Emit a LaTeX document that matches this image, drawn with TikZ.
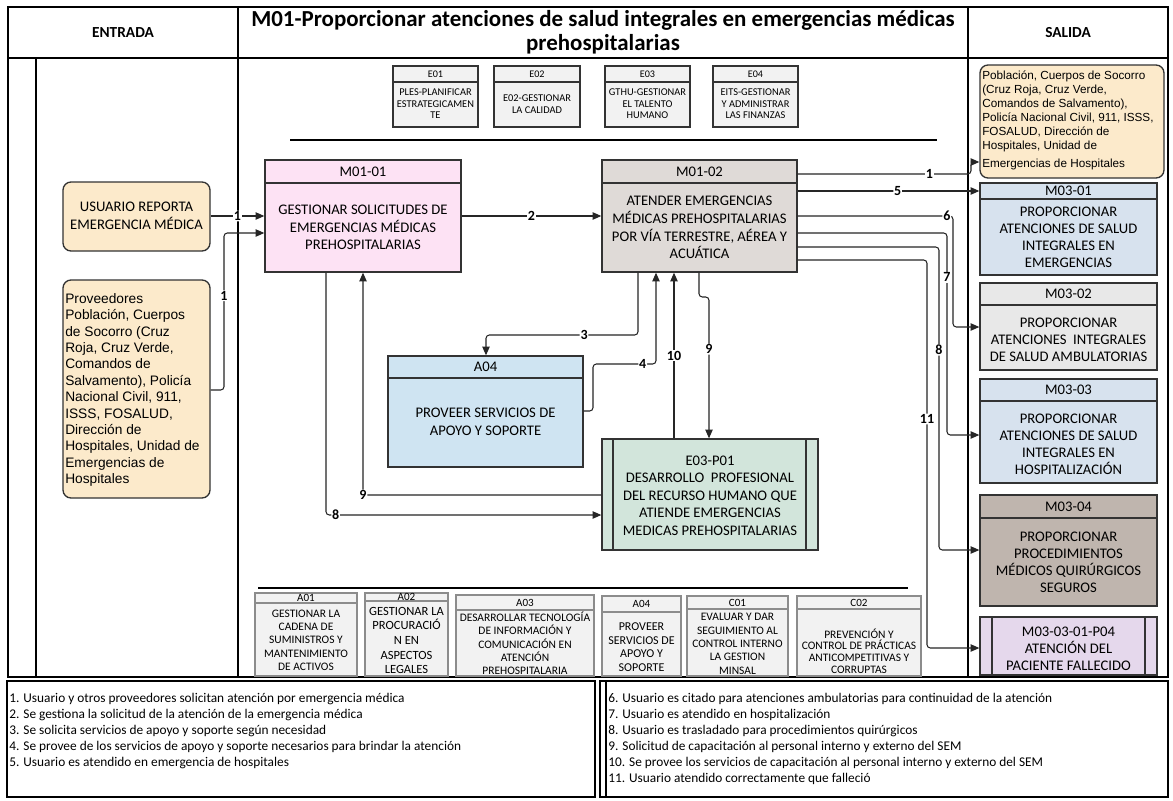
\documentclass[tikz,border=0pt]{standalone}
\usepackage{fontspec}
\setmainfont{Carlito}
\newfontfamily\arialf{Liberation Sans}
\usetikzlibrary{arrows.meta,fit}
\definecolor{peach}{HTML}{FCEACB}
\definecolor{pinkb}{HTML}{FDE2F4}
\definecolor{taupel}{HTML}{DFDAD7}
\definecolor{blueA}{HTML}{CFE4F2}
\definecolor{mint}{HTML}{D2E5DB}
\definecolor{steel}{HTML}{D7E2EE}
\definecolor{grayM}{HTML}{E8E8E8}
\definecolor{taupe}{HTML}{BFB5AE}
\definecolor{lav}{HTML}{E5D8EC}
\definecolor{boxg}{HTML}{F2F2F2}
\definecolor{boxline}{HTML}{333333}
\definecolor{grayline}{HTML}{8C8C8C}
\definecolor{connc}{HTML}{262626}
\tikzset{
 frame/.style={draw=black, line width=1.1pt},
 mbox/.style={draw=boxline, line width=1pt, inner sep=0pt},
 hline/.style={draw=boxline, line width=1pt},
 htext/.style={font=\fontsize{11}{13}\selectfont, inner sep=0pt},
 btext/.style={font=\fontsize{11}{13.2}\selectfont, align=center, inner sep=0pt},
 rbox/.style={draw=boxline, fill=peach, line width=1pt, rounded corners=6pt, inner sep=0pt},
 conn/.style={draw=connc, line width=0.8pt, rounded corners=2.5pt},
 arr/.style={conn, -{Triangle[length=6.5pt,width=5.5pt]}},
 lab/.style={font=\fontsize{10.5}{10.5}\selectfont\bfseries, fill=white, inner sep=0.6pt},
 legtext/.style={font=\fontsize{10}{11}\selectfont, anchor=west, inner sep=0pt},
 sepline/.style={draw=black, line width=0.8pt},
}
\newcommand{\mkbox}[9]{%
  \node[mbox, fit={(#2,#3) (#4,#5)}] (#1) {};
  \draw[hline] (#2,#6) -- (#4,#6);
  \node[htext] (#1-h) at ({(#2+#4)/2},{(#3+#6)/2}) {#8};
  \node[btext] (#1-t) at ({(#2+#4)/2},#7) {#9};
}
\begin{document}
\begin{tikzpicture}[x=0.75pt,y=-0.75pt]
\useasboundingbox (0,0) rectangle (1173,800);
\fill[white] (0,0) rectangle (1173,800);

% ---------- frame ----------
\draw[frame] (8,7) rectangle (1168,677);
\draw[frame] (8,58) -- (1168,58);
\draw[frame] (238,7) -- (238,677);
\draw[frame] (968,7) -- (968,677);
\draw[frame] (36,58) -- (36,677);
\node[font=\fontsize{11.5}{13}\selectfont\bfseries] (entrada) at (123,32.5) {ENTRADA};
\node[font=\fontsize{11.5}{13}\selectfont\bfseries] (salida) at (1068,32.5) {SALIDA};
\node[font=\fontsize{17.2}{18}\selectfont\bfseries, align=center, inner sep=0pt] (title) at (603,32.5)
  {M01-Proporcionar atenciones de salud integrales en emergencias médicas\\prehospitalarias};

% ---------- top strategic boxes ----------
\begin{scope}[mbox/.append style={fill=boxg, line width=0.8pt}, hline/.append style={line width=0.8pt},
  htext/.style={font=\fontsize{7.6}{8}\selectfont, inner sep=0pt},
  btext/.style={font=\fontsize{7.8}{8.7}\selectfont, align=center, inner sep=0pt}]
\mkbox{e01}{393}{66}{478}{127}{82}{104}{E01}{PLES-PLANIFICAR\\ESTRATEGICAMEN\\TE}
\mkbox{e02}{494}{66}{580}{127}{82}{104}{E02}{E02-GESTIONAR\\LA CALIDAD}
\mkbox{e03}{605}{66}{690}{127}{82}{104}{E03}{GTHU-GESTIONAR\\EL TALENTO\\HUMANO}
\mkbox{e04}{713}{66}{798}{127}{82}{104}{E04}{EITS-GESTIONAR\\Y ADMINISTRAR\\LAS FINANZAS}
\end{scope}
\draw[sepline] (290,140) -- (937,140);

% ---------- inputs ----------
\node[rbox, fit={(63,182) (210,251)}] (usr) {};
\node[btext] (usr-t) at (136.5,215.5) {USUARIO REPORTA\\EMERGENCIA MÉDICA};
\node[rbox, fit={(63,280) (210,498)}] (prov) {};
\node[font=\arialf\fontsize{10.3}{12.3}\selectfont, align=left, anchor=west, inner sep=0pt] (prov-t) at (65,390)
 {Proveedores\\Población, Cuerpos\\de Socorro (Cruz\\Roja, Cruz Verde,\\Comandos de\\Salvamento), Policía\\Nacional Civil, 911,\\ISSS, FOSALUD,\\Dirección de\\Hospitales, Unidad de\\Emergencias de\\Hospitales};

% ---------- main process boxes ----------
\begin{scope}[mbox/.append style={fill=pinkb}]
\mkbox{m0101}{265}{160}{461}{272}{183}{227.5}{M01-01}{GESTIONAR SOLICITUDES DE\\EMERGENCIAS MÉDICAS\\PREHOSPITALARIAS}
\end{scope}
\begin{scope}[mbox/.append style={fill=taupel}]
\mkbox{m0102}{602}{160}{797}{272}{183}{227.5}{M01-02}{ATENDER EMERGENCIAS\\MÉDICAS PREHOSPITALARIAS\\POR VÍA TERRESTRE, AÉREA Y\\ACUÁTICA}
\end{scope}
\begin{scope}[mbox/.append style={fill=blueA}]
\mkbox{a04}{388}{356}{583}{467}{378}{422}{A04}{PROVEER SERVICIOS DE\\APOYO Y SOPORTE}
\end{scope}
\node[mbox, fill=mint, fit={(602,439) (818,550)}] (e03p) {};
\draw[hline] (613,439) -- (613,550);
\draw[hline] (806,439) -- (806,550);
\node[btext] (e03p-t) at (710,495.5) {E03-P01\\DESARROLLO\ \ PROFESIONAL\\DEL RECURSO HUMANO QUE\\ATIENDE EMERGENCIAS\\MEDICAS PREHOSPITALARIAS};

% ---------- outputs ----------
\node[rbox, fit={(980,65) (1164,178)}] (outb) {};
\node[font=\arialf\fontsize{8.8}{10.5}\selectfont, align=left, anchor=west, inner sep=0pt] (outb-t) at (982,120)
 {Población, Cuerpos de Socorro\\(Cruz Roja, Cruz Verde,\\Comandos de Salvamento),\\Policía Nacional Civil, 911, ISSS,\\FOSALUD, Dirección de\\Hospitales, Unidad de\\[3pt]Emergencias de Hospitales};
\begin{scope}[btext/.style={font=\fontsize{11}{12.8}\selectfont, align=center, inner sep=0pt}]
\begin{scope}[mbox/.append style={fill=steel}]
\mkbox{m0301}{980}{183}{1157}{275}{199}{237.5}{M03-01}{PROPORCIONAR\\ATENCIONES DE SALUD\\INTEGRALES EN\\EMERGENCIAS}
\end{scope}
\begin{scope}[mbox/.append style={fill=grayM}]
\mkbox{m0302}{980}{283}{1157}{370}{305}{340}{M03-02}{PROPORCIONAR\\ATENCIONES\ \ INTEGRALES\\DE SALUD AMBULATORIAS}
\end{scope}
\begin{scope}[mbox/.append style={fill=steel}]
\mkbox{m0303}{980}{379}{1157}{483}{401}{444.5}{M03-03}{PROPORCIONAR\\ATENCIONES DE SALUD\\INTEGRALES EN\\HOSPITALIZACIÓN}
\end{scope}
\begin{scope}[mbox/.append style={fill=taupe}]
\mkbox{m0304}{980}{495}{1157}{606}{518}{562}{M03-04}{PROPORCIONAR\\PROCEDIMIENTOS\\MÉDICOS QUIRÚRGICOS\\SEGUROS}
\end{scope}
\node[mbox, fill=lav, fit={(980,617) (1157,675)}] (p04) {};
\draw[hline] (992,617) -- (992,675);
\draw[hline] (1145,617) -- (1145,675);
\node[btext] (p04-t) at (1068.5,649) {M03-03-01-P04\\ATENCIÓN DEL\\PACIENTE FALLECIDO};
\end{scope}

% ---------- support boxes ----------
\draw[sepline] (258,588) -- (908,588);
\begin{scope}[mbox/.append style={fill=boxg, draw=grayline, line width=0.9pt}, hline/.append style={draw=grayline, line width=0.9pt},
  htext/.style={font=\fontsize{8.3}{9}\selectfont, inner sep=0pt},
  btext/.style={font=\fontsize{8.6}{10}\selectfont, align=center, inner sep=0pt}]
\mkbox{a01}{255}{593}{357}{676}{603}{640}{A01}{GESTIONAR LA\\CADENA DE\\SUMINISTROS Y\\MANTENIMIENTO\\DE ACTIVOS}
\begin{scope}[btext/.style={font=\fontsize{9.4}{11}\selectfont, align=center, inner sep=0pt}]
\mkbox{a02}{365}{593}{448}{676}{601}{640.5}{A02}{GESTIONAR LA\\PROCURACIÓ\\N EN\\ASPECTOS\\LEGALES}
\end{scope}
\mkbox{a03}{456}{595}{594}{676}{610}{643.5}{A03}{DESARROLLAR TECNOLOGÍA\\DE INFORMACIÓN Y\\COMUNICACIÓN EN\\ATENCIÓN\\PREHOSPITALARIA}
\begin{scope}[btext/.style={font=\fontsize{9}{10.2}\selectfont, align=center, inner sep=0pt}]
\mkbox{a04b}{602}{596}{681}{676}{612}{647}{A04}{PROVEER\\SERVICIOS DE\\APOYO Y\\SOPORTE}
\end{scope}
\mkbox{c01}{687}{596}{788}{676}{609}{644}{C01}{EVALUAR Y DAR\\SEGUIMIENTO AL\\CONTROL INTERNO\\LA GESTION\\MINSAL}
\begin{scope}[btext/.style={font=\fontsize{8.6}{8.8}\selectfont, align=center, inner sep=0pt}]
\mkbox{c02}{797}{596}{921}{676}{609}{651}{C02}{PREVENCIÓN Y\\CONTROL DE PRÁCTICAS\\ANTICOMPETITIVAS Y\\CORRUPTAS}
\end{scope}
\end{scope}

% ---------- connectors ----------
\draw[arr] (usr.east |- 0,216) -- node[lab]{1} (m0101.west |- 0,216);
\draw[arr] (prov.east |- 0,390) -- (224,390) -- node[lab,pos=0.6]{1} (224,233) -- (m0101.west |- 0,233);
\draw[arr] (m0101.east |- 0,216) -- node[lab]{2} (m0102.west |- 0,216);
\draw[arr] (m0102.south -| 638,0) -- (638,335) -- node[lab,pos=0.355]{3} (486,335) -- (a04.north -| 486,0);
\draw[arr] (a04.east |- 0,411) -- (593,411) -- (593,364) -- node[lab,pos=0.79]{4} (656,364) -- (m0102.south -| 656,0);
\draw[arr] (e03p.north -| 674,0) -- node[lab,pos=0.5]{10} (m0102.south -| 674,0);
\draw[arr] (m0102.south -| 699,0) -- (699,297) -- (709,297) -- node[lab,pos=0.37]{9} (e03p.north -| 709,0);
\draw[arr] (e03p.west |- 0,495) -- node[lab,pos=1]{9} (363,495) -- (m0101.south -| 363,0);
\draw[arr] (m0101.south -| 326,0) -- (326,515) -- node[lab,pos=0.035]{8} (e03p.west |- 0,515);
\draw[arr] (m0102.east |- 0,174) -- node[lab,pos=0.76]{1} (971,174) -- (971,162) -- (outb.west |- 0,162);
\draw[arr] (m0102.east |- 0,191) -- node[lab,pos=0.55]{5} (m0301.west |- 0,191);
\draw[arr] (m0102.east |- 0,216) -- node[lab,pos=0.96]{6} (953,216) -- (953,327) -- (m0302.west |- 0,327);
\draw[arr] (m0102.east |- 0,233) -- (947,233) -- node[lab,pos=0.22]{7} (947,435) -- (m0303.west |- 0,435);
\draw[arr] (m0102.east |- 0,247) -- (939,247) -- node[lab,pos=0.34]{8} (939,550) -- (m0304.west |- 0,550);
\draw[arr] (m0102.east |- 0,260) -- (927,260) -- node[lab,pos=0.41]{11} (927,648) -- (p04.west |- 0,648);

% ---------- legend ----------
\node[draw=black, line width=0.8pt, inner sep=0pt, fit={(7,681) (595,797)}] (legL) {};
\node[draw=black, line width=0.8pt, inner sep=0pt, fit={(600,681) (1168,797)}] (legR) {};
\draw[black, line width=0.8pt] (606,681) -- (606,797);
\node[legtext] (l1) at (9,699) {1. Usuario y otros proveedores solicitan atención por emergencia médica};
\node[legtext] (l2) at (9,715) {2. Se gestiona la solicitud de la atención de la emergencia médica};
\node[legtext] (l3) at (9,731) {3. Se solicita servicios de apoyo y soporte según necesidad};
\node[legtext] (l4) at (9,747) {4. Se provee de los servicios de apoyo y soporte necesarios para brindar la atención};
\node[legtext] (l5) at (9,763) {5. Usuario es atendido en emergencia de hospitales};
\node[legtext] (l6) at (608,699) {6. Usuario es citado para atenciones ambulatorias para continuidad de la atención};
\node[legtext] (l7) at (608,715) {7. Usuario es atendido en hospitalización};
\node[legtext] (l8) at (608,731) {8. Usuario es trasladado para procedimientos quirúrgicos};
\node[legtext] (l9) at (608,747) {9. Solicitud de capacitación al personal interno y externo del SEM};
\node[legtext] (l10) at (608,763) {10. Se provee los servicios de capacitación al personal interno y externo del SEM};
\node[legtext] (l11) at (608,779) {11. Usuario atendido correctamente que falleció};
\end{tikzpicture}
\end{document}
